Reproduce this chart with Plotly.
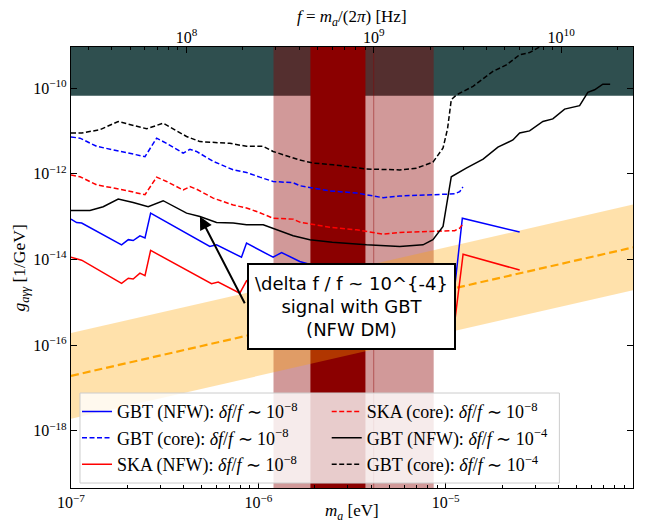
import numpy as np
import plotly.graph_objects as go

HZ_PER_EV = 2.417989e14  # f = m_a / (2 pi) in Hz per eV

# ---- sensitivity curves: log10(m_a / eV) and log10(g / GeV^-1) ----
gbt_nfw_8_logm = [-7.00, -6.970, -6.943, -6.730, -6.694, -6.668, -6.632, -6.605, -6.575,
                  -6.259, -6.223, -6.090, -6.063, -5.921, -5.876, -5.779, -5.62, -5.48,
                  -5.33, -5.07, -4.957, -4.911, -4.605]
gbt_nfw_8_logg = [-13.06, -13.14, -13.15, -13.66, -13.54, -13.56, -13.45, -13.50, -12.92,
                  -13.70, -13.66, -13.95, -13.62, -13.95, -13.84, -14.05, -14.25, -14.35,
                  -14.50, -14.60, -14.86, -13.04, -13.36]

gbt_core_8_logm = [-7.00, -6.952, -6.863, -6.739, -6.605, -6.543, -6.490, -6.401, -6.365,
                   -6.330, -6.241, -6.134, -6.063, -5.992, -5.921, -5.814, -5.779, -5.619,
                   -5.476, -5.334, -5.245, -5.068, -4.952, -4.925, -4.908]
gbt_core_8_logg = [-11.14, -11.17, -11.36, -11.48, -11.60, -11.17, -11.29, -11.52, -11.43,
                   -11.48, -11.71, -11.91, -11.97, -12.08, -12.18, -12.21, -12.28, -12.40,
                   -12.45, -12.56, -12.52, -12.49, -12.47, -12.42, -12.31]

ska_nfw_8_logm = [-7.00, -6.943, -6.730, -6.694, -6.668, -6.632, -6.605, -6.575, -6.250,
                  -6.214, -6.099, -6.063, -5.921, -5.876, -5.779, -5.50, -5.20, -4.957,
                  -4.907, -4.605]
ska_nfw_8_logg = [-13.95, -14.02, -14.56, -14.44, -14.46, -14.32, -14.38, -13.79, -14.57,
                  -14.53, -14.79, -14.50, -14.83, -14.72, -14.93, -15.10, -15.30, -15.65,
                  -13.88, -14.25]

ska_core_8_logm = [-7.00, -6.952, -6.863, -6.739, -6.605, -6.543, -6.490, -6.401, -6.365,
                   -6.330, -6.241, -6.134, -6.063, -5.992, -5.921, -5.814, -5.779, -5.619,
                   -5.476, -5.334, -5.245, -5.068, -4.952, -4.925, -4.911]
ska_core_8_logg = [-12.03, -12.07, -12.26, -12.36, -12.49, -12.08, -12.18, -12.38, -12.30,
                   -12.36, -12.57, -12.73, -12.80, -12.91, -13.04, -13.06, -13.13, -13.25,
                   -13.31, -13.41, -13.37, -13.35, -13.33, -13.27, -13.19]

gbt_nfw_4_logm = [-7.00, -6.899, -6.828, -6.748, -6.668, -6.588, -6.508, -6.383, -6.312,
                  -6.223, -6.134, -6.063, -5.974, -5.921, -5.814, -5.725, -5.605, -5.423,
                  -5.245, -5.121, -5.068, -5.014, -4.996, -4.970, -4.890, -4.800, -4.721,
                  -4.641, -4.605, -4.552, -4.481, -4.428, -4.365, -4.285, -4.241, -4.205,
                  -4.161, -4.122]
gbt_nfw_4_logg = [-12.86, -12.86, -12.77, -12.59, -12.67, -12.77, -12.63, -12.92, -13.00,
                  -13.14, -13.15, -13.19, -13.19, -13.27, -13.45, -13.54, -13.60, -13.66,
                  -13.70, -13.66, -13.54, -13.23, -12.77, -12.07, -11.87, -11.66, -11.38,
                  -11.21, -11.05, -11.00, -10.78, -10.72, -10.49, -10.41, -10.10, -10.04,
                  -9.91, -9.91]

gbt_core_4_logm = [-7.00, -6.943, -6.845, -6.748, -6.596, -6.508, -6.383, -6.312, -6.152,
                   -6.063, -5.974, -5.921, -5.779, -5.708, -5.601, -5.423, -5.245, -5.156,
                   -5.068, -5.014, -4.990, -4.970, -4.943, -4.854, -4.748, -4.676, -4.605,
                   -4.552, -4.499, -4.460]
gbt_core_4_logg = [-11.05, -11.05, -10.97, -10.78, -10.95, -10.82, -11.13, -11.25, -11.29,
                   -11.36, -11.36, -11.48, -11.68, -11.75, -11.79, -11.89, -11.91, -11.87,
                   -11.73, -11.40, -10.95, -10.27, -10.16, -9.96, -9.61, -9.46, -9.22,
                   -9.17, -9.04, -8.93]

# ---- shaded regions ----
cast_limit = 6.6e-11                 # GeV^-1, excluded above
gbt_band_wide = [1.205e-6, 8.63e-6]  # eV
gbt_band_core = [1.897e-6, 3.73e-6]  # eV
gbt_band_edge = 4.13e-6              # eV

# QCD axion band: g = c * m_a, spread by a factor of 10 either side
qcd_m = [1e-7, 1e-4]
qcd_coeff = 1.9e-10
qcd_spread = 10.0

# annotation anchor points (m_a in eV, g in GeV^-1)
arrow_tip = (4.88e-7, 1.0e-13)
arrow_tail = (8.57e-7, 8.5e-16)
note_center = (3.13e-6, 7.9e-16)

# axes
x_range = [-7.0, -4.0]
y_range = [-19.34, -9.04]
m_ticks = [1e-7, 1e-6, 1e-5, 1e-4]
m_ticktext = ["10<sup>−7</sup>", "10<sup>−6</sup>", "10<sup>−5</sup>", "10<sup>−4</sup>"]
g_ticks = [1e-18, 1e-16, 1e-14, 1e-12, 1e-10]
g_ticktext = ["10<sup>−18</sup>", "10<sup>−16</sup>", "10<sup>−14</sup>",
              "10<sup>−12</sup>", "10<sup>−10</sup>"]
f_ticks = [1e8, 1e9, 1e10]
f_ticktext = ["10<sup>8</sup>", "10<sup>9</sup>", "10<sup>10</sup>"]

SERIF = "Liberation Serif"
SANS = "DejaVu Sans"

Y_LO, Y_HI = 1e-21, 1e-8   # beyond the visible range, for full-height fills
X_LO, X_HI = 1e-7, 1e-4

fig = go.Figure()


def fill_rect(x0, x1, y0, y1, color):
    fig.add_trace(go.Scatter(
        x=[x0, x1, x1, x0, x0], y=[y0, y0, y1, y1, y0], mode="lines",
        fill="toself", fillcolor=color, line=dict(width=0),
        hoverinfo="skip", showlegend=False))


# excluded region and observing bands
fill_rect(X_LO, X_HI, cast_limit, Y_HI, "#2F4F4F")
fill_rect(gbt_band_wide[0], gbt_band_wide[1], Y_LO, Y_HI, "rgba(139,0,0,0.4)")
fill_rect(gbt_band_core[0], gbt_band_core[1], Y_LO, Y_HI, "#8B0000")
fig.add_trace(go.Scatter(x=[gbt_band_edge, gbt_band_edge], y=[Y_LO, Y_HI], mode="lines",
                         line=dict(color="rgba(139,0,0,0.45)", width=1),
                         hoverinfo="skip", showlegend=False))

# QCD band and its central line
m = np.array(qcd_m)
fig.add_trace(go.Scatter(
    x=[m[0], m[1], m[1], m[0], m[0]],
    y=[qcd_coeff * m[0] / qcd_spread, qcd_coeff * m[1] / qcd_spread,
       qcd_coeff * m[1] * qcd_spread, qcd_coeff * m[0] * qcd_spread,
       qcd_coeff * m[0] / qcd_spread],
    fill="toself", fillcolor="rgba(255,165,0,0.33)", line=dict(width=0),
    mode="lines", hoverinfo="skip", showlegend=False))
fig.add_trace(go.Scatter(
    x=m, y=qcd_coeff * m, mode="lines",
    line=dict(color="#FFA500", width=2.2, dash="8px,4px"),
    hoverinfo="skip", showlegend=False))

DASH = "5px,2.5px"
# (label, log m, log g, colour, dash, legend column, order)
curves = [
    ("GBT (NFW): <i>δf</i>/<i>f</i> ∼ 10<sup>−8</sup>", gbt_nfw_8_logm, gbt_nfw_8_logg, "blue", "solid", "legend", 1),
    ("GBT (core): <i>δf</i>/<i>f</i> ∼ 10<sup>−8</sup>", gbt_core_8_logm, gbt_core_8_logg, "blue", DASH, "legend", 2),
    ("SKA (NFW): <i>δf</i>/<i>f</i> ∼ 10<sup>−8</sup>", ska_nfw_8_logm, ska_nfw_8_logg, "red", "solid", "legend", 3),
    ("SKA (core): <i>δf</i>/<i>f</i> ∼ 10<sup>−8</sup>", ska_core_8_logm, ska_core_8_logg, "red", DASH, "legend2", 1),
    ("GBT (NFW): <i>δf</i>/<i>f</i> ∼ 10<sup>−4</sup>", gbt_nfw_4_logm, gbt_nfw_4_logg, "black", "solid", "legend2", 2),
    ("GBT (core): <i>δf</i>/<i>f</i> ∼ 10<sup>−4</sup>", gbt_core_4_logm, gbt_core_4_logg, "black", DASH, "legend2", 3),
]
for name, lm, lg, color, dash, leg, rank in curves:
    fig.add_trace(go.Scatter(
        x=10 ** np.array(lm), y=10 ** np.array(lg), mode="lines", name=name,
        line=dict(color=color, width=1.5, dash=dash), legend=leg, legendrank=rank))

# invisible trace to carry the frequency axis
f_lo, f_hi = 10 ** x_range[0] * HZ_PER_EV, 10 ** x_range[1] * HZ_PER_EV
fig.add_trace(go.Scatter(x=[f_lo, f_hi], y=[1e-12, 1e-12], xaxis="x2", mode="lines",
                         line=dict(width=0), hoverinfo="skip", showlegend=False))


def decade_minors(lo, hi):
    vals = []
    for e in range(int(np.floor(lo)), int(np.ceil(hi)) + 1):
        for d in range(2, 10):
            v = d * 10.0 ** e
            if lo <= np.log10(v) <= hi:
                vals.append(v)
    return vals


tickfont = dict(family=SERIF, size=16, color="black")
legend_common = dict(
    orientation="v", yanchor="top", y=0.215, xanchor="left",
    bgcolor="rgba(0,0,0,0)", borderwidth=0, tracegroupgap=0, itemwidth=30,
    font=dict(family=SERIF, size=18, color="black"),
)

fig.update_layout(
    width=647, height=524,
    margin=dict(l=71, r=13.5, t=47, b=36),
    paper_bgcolor="white", plot_bgcolor="white",
    showlegend=True,
    legend=dict(x=0.0107, **legend_common),
    legend2=dict(x=0.455, **legend_common),
    # legend frame shared by both columns
    shapes=[dict(type="rect", xref="paper", yref="paper", x0=0.016, x1=0.869,
                 y0=0.0113, y1=0.2154, fillcolor="rgba(255,255,255,0.8)",
                 line=dict(color="#cccccc", width=1), layer="above")],
    xaxis=dict(
        type="log", range=x_range, tickvals=m_ticks, ticktext=m_ticktext,
        showgrid=False, zeroline=False, showline=True, linecolor="black",
        linewidth=1.2, mirror=True, ticks="inside", ticklen=6, tickwidth=1,
        tickcolor="black", tickfont=tickfont,
        minor=dict(tickvals=decade_minors(-7, -4), ticks="inside", ticklen=3,
                   tickwidth=0.8, tickcolor="black", showgrid=False),
    ),
    xaxis2=dict(
        type="log", overlaying="x", side="top",
        range=[np.log10(f_lo), np.log10(f_hi)], tickvals=f_ticks, ticktext=f_ticktext,
        showgrid=False, zeroline=False, showline=False,
        ticks="inside", ticklen=6, tickwidth=1, tickcolor="black", tickfont=tickfont,
        minor=dict(tickvals=decade_minors(np.log10(f_lo), np.log10(f_hi)),
                   ticks="inside", ticklen=3, tickwidth=0.8, tickcolor="black",
                   showgrid=False),
    ),
    yaxis=dict(
        type="log", range=y_range, tickvals=g_ticks, ticktext=g_ticktext,
        showgrid=False, zeroline=False, showline=True, linecolor="black",
        linewidth=1.2, mirror="ticks", ticks="inside", ticklen=6, tickwidth=1,
        tickcolor="black", tickfont=tickfont,
    ),
)

annotations = [
    # axis titles
    dict(text="<i>m<sub>a</sub></i> [eV]", xref="paper", yref="paper", x=0.5, y=-0.054,
         xanchor="center", yanchor="middle", showarrow=False,
         font=dict(family=SERIF, size=17, color="black")),
    dict(text="<i>f</i> = <i>m<sub>a</sub></i>/(2<i>π</i>) [Hz]", xref="paper", yref="paper",
         x=0.5, y=1.066, xanchor="center", yanchor="middle", showarrow=False,
         font=dict(family=SERIF, size=17, color="black")),
    dict(text="<i>g<sub>aγγ</sub></i> [1/GeV]", xref="paper", yref="paper",
         x=-0.089, y=0.5, xanchor="center", yanchor="middle", textangle=-90,
         showarrow=False, font=dict(family=SERIF, size=17.5, color="black")),
    # arrow to the curve
    dict(text=" ", x=np.log10(arrow_tip[0]), y=np.log10(arrow_tip[1]), xref="x", yref="y",
         ax=np.log10(arrow_tail[0]), ay=np.log10(arrow_tail[1]), axref="x", ayref="y",
         showarrow=True, arrowhead=2, arrowsize=1.3, arrowwidth=2, arrowcolor="black",
         standoff=0, font=dict(size=1)),
    # note box
    dict(text="\\delta f / f ~ 10^{-4}<br>signal with GBT<br>(NFW DM)",
         x=np.log10(note_center[0]), y=np.log10(note_center[1]), xref="x", yref="y",
         xanchor="center", yanchor="middle", showarrow=False, align="center",
         width=201, height=79, valign="middle",
         font=dict(family=SANS, size=18, color="black"),
         bgcolor="white", bordercolor="black", borderwidth=2, borderpad=2),
]
fig.update_layout(annotations=annotations)

fig.write_html("out.html")
